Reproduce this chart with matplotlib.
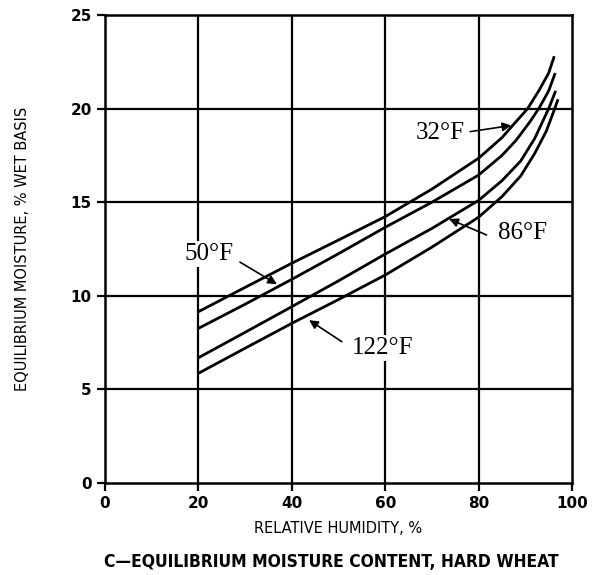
import matplotlib.pyplot as plt

# Relative humidity (%) and equilibrium moisture (% wet basis)
rh_32 = [20, 30, 40, 50, 60, 70, 80, 85, 88, 90.5, 93, 95, 96.2]
emc_32 = [9.15, 10.45, 11.74, 12.98, 14.23, 15.7, 17.35, 18.45, 19.3, 20.0, 21.0, 21.9, 22.8]

rh_50 = [20, 30, 40, 50, 60, 70, 80, 85, 88, 91, 93, 95, 96.4]
emc_50 = [8.26, 9.55, 10.88, 12.25, 13.66, 15.0, 16.45, 17.5, 18.3, 19.3, 20.05, 20.95, 21.9]

rh_86 = [20, 30, 40, 50, 60, 70, 80, 85, 89, 92, 95, 96.5]
emc_86 = [6.69, 8.05, 9.42, 10.8, 12.23, 13.6, 15.1, 16.15, 17.2, 18.4, 20.0, 20.95]

rh_122 = [20, 30, 40, 50, 60, 70, 80, 85, 89, 92, 94.5, 96.3, 97.0]
emc_122 = [5.86, 7.2, 8.53, 9.8, 11.11, 12.6, 14.2, 15.3, 16.4, 17.6, 18.8, 20.0, 20.5]

x_ticks = [0, 20, 40, 60, 80, 100]
y_ticks = [0, 5, 10, 15, 20, 25]

fig = plt.figure(figsize=(5.94, 5.75), dpi=100)
ax = fig.add_axes([0.1768, 0.16, 0.7862, 0.8139])

ax.set_xlim(0, 100)
ax.set_ylim(0, 25)

# grid
for xv in x_ticks[1:-1]:
    ax.axvline(xv, color='black', lw=1.6, zorder=1)
for yv in y_ticks[1:-1]:
    ax.axhline(yv, color='black', lw=1.6, zorder=1)

for rh, emc in [(rh_32, emc_32), (rh_50, emc_50), (rh_86, emc_86), (rh_122, emc_122)]:
    ax.plot(rh, emc, color='black', lw=2.0, solid_capstyle='butt', zorder=3)

for s in ax.spines.values():
    s.set_linewidth(1.8)

ax.set_xticks(x_ticks)
ax.set_yticks(y_ticks)
ax.tick_params(direction='out', length=6, width=1.6, colors='black')
for lab in ax.get_xticklabels() + ax.get_yticklabels():
    lab.set_fontweight('bold')
    lab.set_fontsize(11)

ax.set_ylabel('EQUILIBRIUM MOISTURE, % WET BASIS', fontsize=10.5, labelpad=29)
ax.set_xlabel('RELATIVE HUMIDITY, %', fontsize=10.5, labelpad=7)
fig.text(0.5585, 0.0226, 'C\u2014EQUILIBRIUM MOISTURE CONTENT, HARD WHEAT',
         ha='center', va='center', fontsize=12.5, fontweight='bold',
         family=['Liberation Sans Narrow', 'DejaVu Sans'], fontstretch='condensed')

# curve labels with arrows
serif = ['Liberation Serif', 'DejaVu Serif']
labels = [
    ('32\u00b0F', (71.9, 18.7), (78.2, 18.77), (87.0, 19.1)),
    ('50\u00b0F', (22.3, 12.23), (28.9, 11.8), (36.8, 10.62)),
    ('86\u00b0F', (89.4, 13.36), (81.7, 13.25), (73.7, 14.1)),
    ('122\u00b0F', (59.5, 7.21), (50.7, 7.55), (43.7, 8.7)),
]
for txt, pos, start, end in labels:
    ax.text(pos[0], pos[1], txt, ha='center', va='center', fontsize=18,
            family=serif, zorder=4,
            bbox=dict(facecolor='white', edgecolor='none', pad=1.5))
    ax.annotate('', xy=end, xytext=start,
                arrowprops=dict(arrowstyle='-|>', color='black', lw=1.2,
                                mutation_scale=13, shrinkA=0, shrinkB=0),
                zorder=4)

fig.savefig('out.png', dpi=100)
